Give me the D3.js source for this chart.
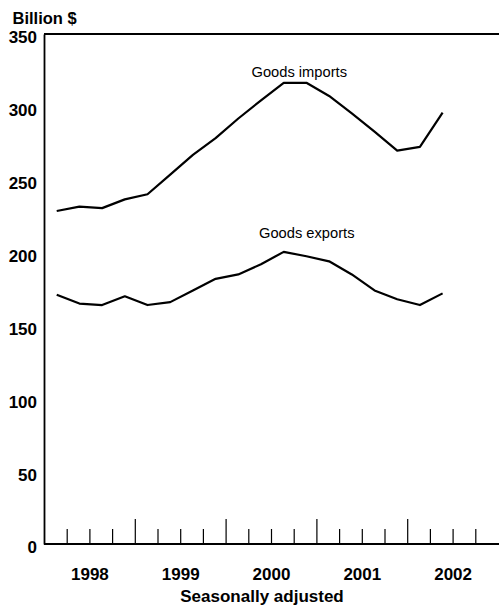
<!DOCTYPE html>
<html>
<head>
<meta charset="utf-8">
<script src="https://cdn.jsdelivr.net/npm/d3@7"></script>
<style>
  html, body { margin: 0; padding: 0; background: #fff; }
  svg { display: block; }
  text { font-family: Arial, "Liberation Sans", Helvetica, sans-serif; fill: #000; }
</style>
</head>
<body>
<svg id="chart" width="499" height="613"></svg>
<script>
// ---- data ----
const quarters = ["1998Q1","1998Q2","1998Q3","1998Q4",
                  "1999Q1","1999Q2","1999Q3","1999Q4",
                  "2000Q1","2000Q2","2000Q3","2000Q4",
                  "2001Q1","2001Q2","2001Q3","2001Q4",
                  "2002Q1","2002Q2"];
const goodsImports = [228.5, 231.5, 230.5, 236.5,
                      240, 253.5, 267, 278.5,
                      292, 304.5, 316.5, 316.5,
                      307.5, 295.5, 283, 270,
                      272.5, 296];
const goodsExports = [171, 165, 164, 170,
                      164, 166, 174, 182,
                      185, 192, 200.5, 197.5,
                      194, 185, 174, 168,
                      164, 172];
const yTicks = [0, 50, 100, 150, 200, 250, 300, 350];
const yearLabels = ["1998", "1999", "2000", "2001", "2002"];
const seriesLabels = ["Goods imports", "Goods exports"];
const yTitle = "Billion $";
const xTitle = "Seasonally adjusted";

// ---- layout ----
const svg = d3.select("#chart");
const mLeft = 44, mRight = 498, mTop = 34, mBottom = 544;

const x = d3.scaleLinear().domain([1998, 2003]).range([mLeft, mRight]);
const y = d3.scaleLinear().domain([0, 350]).range([mBottom, mTop]);

const qPos = q => +q.slice(0, 4) + (+q.slice(5) - 1) / 4 + 0.14;

// top frame line
svg.append("line")
  .attr("x1", x(1998)).attr("x2", 499)
  .attr("y1", y(350)).attr("y2", y(350))
  .attr("stroke", "#000").attr("stroke-width", 1.8);

// y axis
const yAxis = svg.append("g")
  .attr("transform", `translate(${mLeft},0)`)
  .call(d3.axisLeft(y).tickValues(yTicks).tickSize(0).tickPadding(7).tickFormat(d3.format("d")));
yAxis.select(".domain").attr("stroke", "#000").attr("stroke-width", 1.8);
yAxis.selectAll("text")
  .attr("y", 3.5)
  .style("font-size", "17px").style("font-weight", "bold")
  .style("font-family", "Arial, 'Liberation Sans', sans-serif");

// x axis: quarter tick marks pointing up
const tickVals = d3.range(1, 20).map(i => 1998 + i / 4).filter(v => v < 2003);
const xAxis = svg.append("g")
  .attr("transform", `translate(0,${mBottom})`)
  .call(d3.axisBottom(x).tickValues(tickVals).tickSize(-15).tickSizeOuter(0).tickFormat(""));
xAxis.select(".domain").attr("stroke", "#000").attr("stroke-width", 1.8)
  .attr("d", `M${x(1998)},0H499`);
xAxis.selectAll(".tick line")
  .attr("stroke", "#000").attr("stroke-width", 1.2)
  .attr("y2", d => Number.isInteger(d) ? -25 : -15);

// year labels centered on each year
const yearAxis = svg.append("g")
  .attr("transform", `translate(0,${mBottom})`)
  .call(d3.axisBottom(x).tickValues(yearLabels.map(yv => +yv + 0.5)).tickSize(0)
        .tickFormat(d => String(Math.floor(d))));
yearAxis.select(".domain").remove();
yearAxis.selectAll("text")
  .attr("y", 36).attr("dy", 0)
  .style("font-size", "17px").style("font-weight", "bold")
  .style("font-family", "Arial, 'Liberation Sans', sans-serif");

// lines
const line = d3.line()
  .x((d, i) => x(qPos(quarters[i])))
  .y(d => y(d));

[goodsImports, goodsExports].forEach(s => {
  svg.append("path")
    .datum(s)
    .attr("d", line)
    .attr("fill", "none")
    .attr("stroke", "#000")
    .attr("stroke-width", 2.2)
    .attr("stroke-linejoin", "round");
});

// series labels
svg.append("text").attr("x", 251.5).attr("y", 77.3)
  .style("font-size", "14.7px").text(seriesLabels[0]);
svg.append("text").attr("x", 259).attr("y", 237.5)
  .style("font-size", "14.7px").text(seriesLabels[1]);

// titles
svg.append("text").attr("x", 12.5).attr("y", 24)
  .style("font-size", "16.5px").style("font-weight", "bold").text(yTitle);
svg.append("text").attr("x", 262).attr("y", 602).attr("text-anchor", "middle")
  .style("font-size", "17px").style("font-weight", "bold").text(xTitle);
</script>
</body>
</html>
